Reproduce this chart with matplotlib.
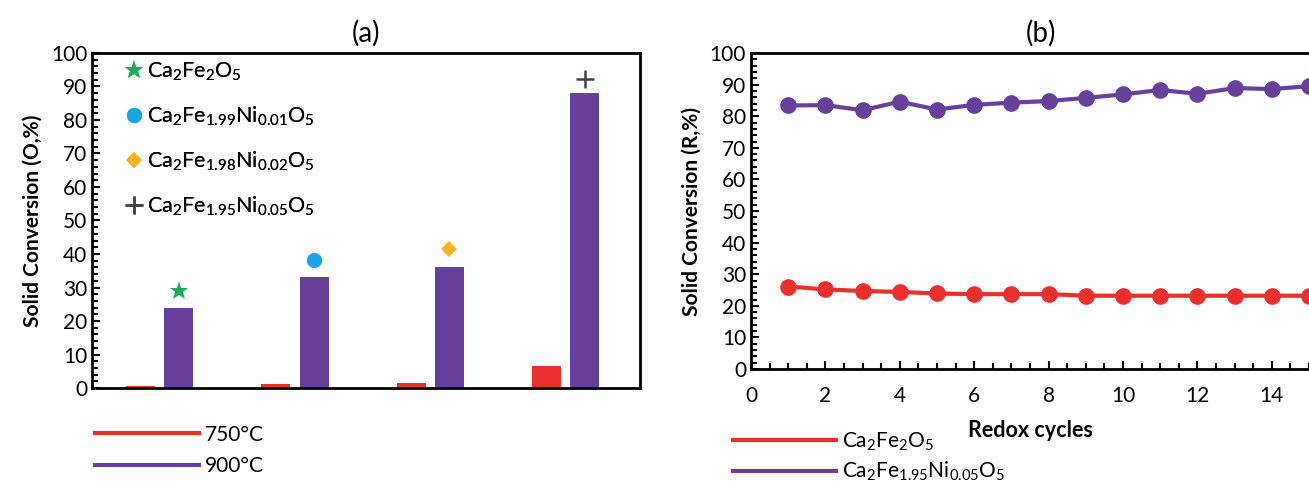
import numpy as np
import matplotlib
matplotlib.use('Agg')
import matplotlib.pyplot as plt
from matplotlib.lines import Line2D
from matplotlib.ticker import MultipleLocator, FixedLocator

# 字体设置，接近原图的 Calibri 风格
plt.rcParams['font.family'] = ['Lato', 'DejaVu Sans']
plt.rcParams['mathtext.default'] = 'regular'

# (a) 数据
groups = [0, 1, 2, 3]
conv_750 = [0.5, 1.2, 1.4, 6.5]
conv_900 = [24.0, 33.1, 36.1, 88.0]
sample_labels = [r'Ca$_2$Fe$_2$O$_5$',
                 r'Ca$_2$Fe$_{1.99}$Ni$_{0.01}$O$_5$',
                 r'Ca$_2$Fe$_{1.98}$Ni$_{0.02}$O$_5$',
                 r'Ca$_2$Fe$_{1.95}$Ni$_{0.05}$O$_5$']
marker_vals = [28.9, 38.1, 41.4, 92.2]

# (b) 数据
cycles = list(range(1, 16))
cf_red = [26.1, 25.2, 24.7, 24.4, 23.9, 23.7, 23.7, 23.7, 23.2, 23.2,
          23.2, 23.2, 23.2, 23.2, 23.2]
cfn_purple = [83.4, 83.5, 81.9, 84.6, 82.1, 83.6, 84.3, 84.8, 85.8, 86.9,
              88.3, 87.1, 88.9, 88.6, 89.5]
cycle_ticks = [0, 2, 4, 6, 8, 10, 12, 14]

RED = '#E8312F'
PURPLE = '#66409A'
styles = [('*', '#1DAA5A', 14), ('o', '#1BA4E2', 11), ('D', '#F6B526', 8), ('+', '#3C4247', 13)]

fig = plt.figure(figsize=(13.09, 4.86), dpi=100)

# ---------- (a) ----------
ax1 = fig.add_axes([0.0703, 0.2016, 0.4186, 0.6894])
x = np.array(groups)
ax1.bar(x - 0.142, conv_750, width=0.215, color=RED)
ax1.bar(x + 0.142, conv_900, width=0.215, color=PURPLE)
for i, (m, c, s) in enumerate(styles):
    ax1.plot(x[i] + 0.142, marker_vals[i], linestyle='none', marker=m, color=c,
             markersize=s, markeredgewidth=1.8 if m == '+' else 0, label=sample_labels[i])
ax1.set_xlim(-0.5, 3.55)
ax1.set_ylim(0, 100)
ax1.set_xticks([])
ax1.yaxis.set_major_locator(MultipleLocator(10))
ax1.yaxis.set_minor_locator(MultipleLocator(2))
ax1.tick_params(axis='y', which='both', direction='in', labelsize=15, width=1.5)
ax1.tick_params(axis='y', which='major', length=6)
ax1.tick_params(axis='y', which='minor', length=4)
for sp in ax1.spines.values():
    sp.set_linewidth(2)
ax1.set_ylabel('Solid Conversion (O,%)', fontsize=15, fontweight='bold', labelpad=6)
ax1.set_title('(a)', fontsize=20, pad=8)
leg1 = ax1.legend(loc='upper left', bbox_to_anchor=(0.03, 1.015), frameon=False,
                  fontsize=15.5, handletextpad=0.0, labelspacing=1.0,
                  borderaxespad=0.2, handlelength=1.2)
ax1.add_artist(leg1)

temp_handles = [Line2D([], [], color=RED, lw=3), Line2D([], [], color=PURPLE, lw=3)]
fig.legend(temp_handles, ['750°C', '900°C'], loc='upper left',
           bbox_to_anchor=(0.058, 0.165), frameon=False, fontsize=15,
           handlelength=5.0, handletextpad=0.3, labelspacing=0.55)

# ---------- (b) ----------
ax2 = fig.add_axes([0.5737, 0.2407, 0.4547, 0.6502])
ax2.plot(cycles, cf_red, color=RED, lw=3, marker='o', markersize=11)
ax2.plot(cycles, cfn_purple, color=PURPLE, lw=3, marker='o', markersize=11)
ax2.set_xlim(0, 16)
ax2.set_ylim(0, 100)
ax2.xaxis.set_major_locator(FixedLocator(cycle_ticks))
ax2.xaxis.set_minor_locator(MultipleLocator(0.5))
ax2.yaxis.set_major_locator(MultipleLocator(10))
ax2.yaxis.set_minor_locator(MultipleLocator(2))
ax2.tick_params(which='both', direction='in', labelsize=15, width=1.5)
ax2.tick_params(which='major', length=6)
ax2.tick_params(which='minor', length=4)
ax2.tick_params(axis='x', pad=12)
for sp in ax2.spines.values():
    sp.set_linewidth(2)
ax2.set_ylabel('Solid Conversion (R,%)', fontsize=15, fontweight='bold', labelpad=6)
ax2.set_xlabel('Redox cycles', fontsize=15.5, fontweight='bold')
ax2.xaxis.set_label_coords(0.47, -0.16)
fig.text(0.795, 0.932, '(b)', fontsize=20, ha='center', va='center')

line_handles = [Line2D([], [], color=RED, lw=3), Line2D([], [], color=PURPLE, lw=3)]
fig.legend(line_handles, [sample_labels[0], sample_labels[3]], loc='upper left',
           bbox_to_anchor=(0.546, 0.153), frameon=False, fontsize=15,
           handlelength=4.9, handletextpad=0.3, labelspacing=0.35)

fig.savefig('out.png', dpi=100)
